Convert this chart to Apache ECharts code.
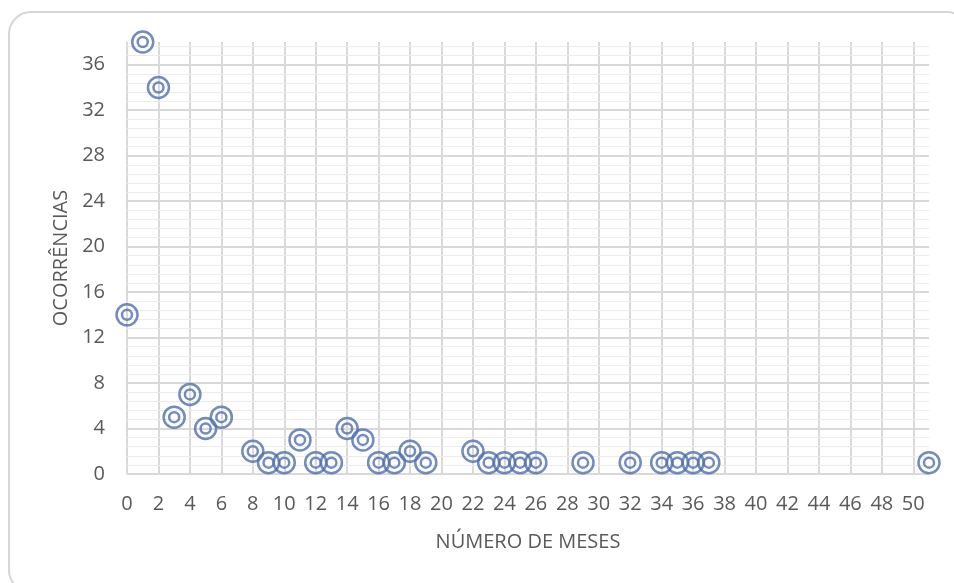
<!DOCTYPE html>
<html>
<head>
<meta charset="utf-8">
<script src="https://cdn.jsdelivr.net/npm/echarts@6/dist/echarts.min.js"></script>
<style>
  html, body { margin: 0; padding: 0; background: #ffffff; }
  #chart { width: 954px; height: 583px; }
</style>
</head>
<body>
<div id="chart"></div>
<script>
// Number of months (x) and how many occurrences were counted for each (y)
const meses = [0, 1, 2, 3, 4, 5, 6, 8, 9, 10, 11, 12, 13, 14, 15, 16, 17, 18, 19,
               22, 23, 24, 25, 26, 29, 32, 34, 35, 36, 37, 51];
const ocorrencias = [14, 38, 34, 5, 7, 4, 5, 2, 1, 1, 3, 1, 1, 4, 3, 1, 1, 2, 1,
                     2, 1, 1, 1, 1, 1, 1, 1, 1, 1, 1, 1];

const xTitle = 'NÚMERO DE MESES';
const yTitle = 'OCORRÊNCIAS';

const points = meses.map((m, i) => [m, ocorrencias[i]]);

const FONT = '"Open Sans", "Noto Sans", sans-serif';
const TEXT = '#595959';
const BLUE = '#4f6fac';

const chart = echarts.init(document.getElementById('chart'), null, { renderer: 'canvas' });

chart.setOption({
  animation: false,
  backgroundColor: '#ffffff',
  graphic: [{
    type: 'rect',
    z: -10,
    shape: { x: 9, y: 12, width: 960, height: 580, r: 22 },
    style: { fill: '#ffffff', stroke: '#d6d6d6', lineWidth: 2 }
  }],
  grid: { left: 127, right: 25, top: 42, bottom: 109, containLabel: false },
  xAxis: {
    type: 'value',
    min: 0,
    max: 51,
    interval: 2,
    name: xTitle,
    nameLocation: 'middle',
    nameGap: 58,
    nameTextStyle: { color: TEXT, fontFamily: FONT, fontSize: 20 },
    axisLine: { show: false },
    axisTick: { show: false },
    axisLabel: { color: TEXT, fontFamily: FONT, fontSize: 20, margin: 20, showMaxLabel: false },
    splitLine: { show: true, showMaxLine: false, lineStyle: { color: '#d9d9d9', width: 2 } }
  },
  yAxis: [{
    type: 'value',
    min: 0,
    max: 38,
    interval: 4,
    name: yTitle,
    nameLocation: 'middle',
    nameGap: 54,
    nameRotate: 90,
    nameTextStyle: { color: TEXT, fontFamily: FONT, fontSize: 20 },
    axisLine: { show: false },
    axisTick: { show: false },
    axisLabel: { color: TEXT, fontFamily: FONT, fontSize: 20, margin: 22, showMaxLabel: false },
    splitLine: { show: true, showMaxLine: false, lineStyle: { color: '#d9d9d9', width: 2 } },
    z: 2
  }, {
    // fine horizontal rules every 0.8
    type: 'value',
    min: 0,
    max: 38,
    interval: 0.8,
    position: 'left',
    axisLine: { show: false },
    axisTick: { show: false },
    axisLabel: { show: false },
    splitLine: { show: true, showMinLine: false, showMaxLine: false, lineStyle: { color: '#ececec', width: 1 } },
    z: 1
  }],
  series: [{
    type: 'scatter',
    data: points,
    symbol: 'circle',
    symbolSize: 21,
    itemStyle: { color: 'rgba(255,255,255,0)', borderColor: BLUE, borderWidth: 2.5 },
    z: 5
  }, {
    type: 'scatter',
    data: points,
    symbol: 'circle',
    symbolSize: 10,
    itemStyle: { color: 'rgba(255,255,255,0)', borderColor: BLUE, borderWidth: 2.5 },
    z: 6
  }]
});
</script>
</body>
</html>
